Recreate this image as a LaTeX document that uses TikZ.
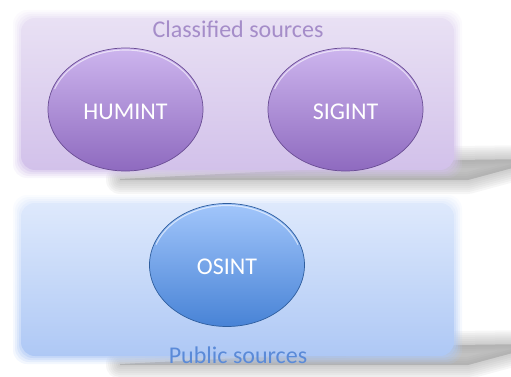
\documentclass[tikz,border=0pt]{standalone}
\usepackage{fontspec}
\setmainfont{Carlito}
\usetikzlibrary{shapes.geometric}

\definecolor{lavtop}{HTML}{E9E1F4}
\definecolor{lavbot}{HTML}{D2C1EA}
\definecolor{purtop}{HTML}{CDB5EE}
\definecolor{purbot}{HTML}{8E6ABF}
\definecolor{purrim}{HTML}{6A4D94}
\definecolor{purtext}{HTML}{A58DC9}
\definecolor{skytop}{HTML}{DEE9FC}
\definecolor{skybot}{HTML}{AEC8F5}
\definecolor{blutop}{HTML}{A2C6FB}
\definecolor{blubot}{HTML}{4883D6}
\definecolor{blurim}{HTML}{2F5E9E}
\definecolor{blutext}{HTML}{5A8AD8}
\definecolor{shadowgray}{HTML}{8C8C8C}

\tikzset{
  blob/.style={ellipse, inner sep=0pt, minimum width=155pt, minimum height=123pt,
    draw=#1rim, line width=0.7pt, top color=#1top, bottom color=#1bot},
  blobtext/.style={text=white, font=\fontsize{24}{28}\selectfont, anchor=base},
  grouptitle/.style={font=\fontsize{24}{28}\selectfont, anchor=base},
  gloss/.style={white, opacity=0.6, line width=1.1pt},
}

\begin{document}
\begin{tikzpicture}[x=1pt, y=-1pt]
  \useasboundingbox (0,0) rectangle (511,377);

  % cast shadows, softened by stacked translucent strokes of growing width
  \foreach \dy in {0,185} {
    \foreach \w in {28,24,20,16,12,8,4} {
      \path[draw=shadowgray, fill=shadowgray, line width=\w pt, line join=round,
            opacity=0.075]
        (120,179+\dy) -- (440,163+\dy) -- (455,160+\dy) -- (535,159+\dy) -- (535,162+\dy)
        .. controls (505,170+\dy) .. (468,180+\dy) -- (120,180+\dy) -- cycle;
    }
  }

  % group panels with soft edges
  \foreach \d/\o in {0/0.15, 2/0.2, 4/0.28, 6/0.4, 8/1} {
    \shade[top color=lavtop, bottom color=lavbot, rounded corners=14pt, opacity=\o]
      (13+\d,10+\d) rectangle (462-\d,178-\d);
    \shade[top color=skytop, bottom color=skybot, rounded corners=14pt, opacity=\o]
      (13+\d,195+\d) rectangle (462-\d,364-\d);
  }

  % intelligence disciplines
  \node[blob=pur] (hum) at (125.5,109.5) {};
  \node[blob=pur] (sig) at (345.5,109.5) {};
  \node[blob=blu] (osi) at (227,265) {};

  % glossy highlight just inside the upper rim
  \foreach \n in {hum,sig,osi} {
    \begin{scope}[shift={(\n.center)}, x=1pt, y=1pt]
      \draw[gloss] (160:75.5pt and 59.5pt)
        arc[start angle=160, end angle=20, x radius=75.5pt, y radius=59.5pt];
    \end{scope}
  }

  \node[blobtext] at ([yshift=-10.5pt]hum.center) {HUMINT};
  \node[blobtext] at ([yshift=-10.5pt]sig.center) {SIGINT};
  \node[blobtext] at ([yshift=-9pt]osi.center) {OSINT};

  \node[grouptitle, text=purtext] (tclass) at (238,38) {Classified sources};
  \node[grouptitle, text=blutext] (tpub) at (238,363) {Public sources};
\end{tikzpicture}
\end{document}
